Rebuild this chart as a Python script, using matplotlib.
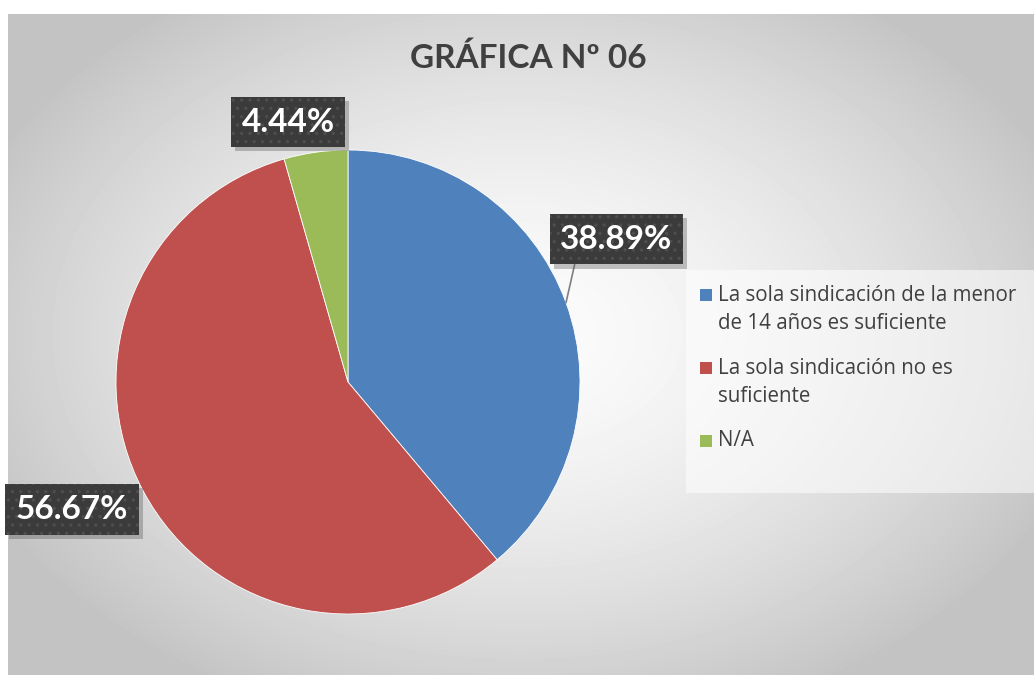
import matplotlib
matplotlib.use("Agg")
import matplotlib.pyplot as plt
import matplotlib.patheffects as pe
from matplotlib.patches import Rectangle
import numpy as np

plt.rcParams['font.family'] = ['Lato', 'DejaVu Sans']
plt.rcParams['hatch.linewidth'] = 1.2

title = "GRÁFICA Nº 06"
categories = ["La sola sindicación de la menor\nde 14 años es suficiente",
              "La sola sindicación no es\nsuficiente",
              "N/A"]
values = [38.89, 56.67, 4.44]
value_labels = ["38.89%", "56.67%", "4.44%"]
colors = ["#4f81bd", "#c0504d", "#9bbb59"]

W, H = 1034, 675
fig = plt.figure(figsize=(W / 100, H / 100), dpi=100)
fig.patch.set_facecolor("white")

# radial grey background of the chart area
bg = fig.add_axes([8 / W, 0, (W - 8) / W, (H - 14) / H])
yy, xx = np.mgrid[0:H - 14, 0:W - 8]
r = np.sqrt(((xx - 512) / 620.0) ** 2 + ((yy - 320) / 430.0) ** 2)
v = np.clip(0.985 - 0.24 * r ** 1.6, 0.765, 1.0)
bg.imshow(v, cmap="gray", vmin=0, vmax=1, aspect="auto", interpolation="bilinear")
bg.set_axis_off()

# pie axes: centre at (348, 382) px, radius 232 px
R = 232.0
ax = fig.add_axes([8 / W, 0, 680 / W, 661 / H])
wedges, _ = ax.pie(values, colors=colors, startangle=90, counterclock=False,
                   wedgeprops=dict(edgecolor="white", linewidth=0.6))
ax.set_xlim(-340 / R, 340 / R)
ax.set_ylim(-293 / R, 368 / R)
ax.set_aspect("auto")
ax.set_axis_off()

# label box offsets (radius factor, extra angle) per slice
label_pos = [(1.31, 8), (1.31, -3.2), (1.15, 5.0)]
box = "square,pad=0.32"
for w, lab, (rf, da) in zip(wedges, value_labels, label_pos):
    mid = np.deg2rad((w.theta1 + w.theta2) / 2)
    tx = rf * np.cos(mid + np.deg2rad(da))
    ty = rf * np.sin(mid + np.deg2rad(da))
    arrow = None
    if lab == "38.89%":
        arrow = dict(arrowstyle="-", color="#7f7f7f", lw=1.2, shrinkA=0,
                     shrinkB=0, relpos=(0.15, 0.0))
    # plain box carrying the soft shadow
    t = ax.annotate(lab, xy=(np.cos(mid), np.sin(mid)), xytext=(tx, ty),
                    ha="center", va="center", fontsize=24, fontweight="bold",
                    color="white", arrowprops=arrow,
                    bbox=dict(boxstyle=box, facecolor="#3b3b3b", edgecolor="none"))
    t.get_bbox_patch().set_path_effects([
        pe.SimplePatchShadow(offset=(3, -3), shadow_rgbFace="#555555", alpha=0.35),
        pe.Normal()])
    # dotted texture on top
    ax.text(tx, ty, lab, ha="center", va="center", fontsize=24,
            fontweight="bold", color="white",
            bbox=dict(boxstyle=box, facecolor="#3b3b3b", edgecolor="#4e4e4e",
                      linewidth=0, hatch=".."))

# title
fig.text(528 / W, 1 - 58 / H, title, ha="center", va="center",
         fontsize=24, fontweight="bold", color="#404040")

# legend panel
fig.patches.append(Rectangle((686 / W, 1 - 493 / H), (W - 686) / W, 223 / H,
                             transform=fig.transFigure, facecolor="white",
                             alpha=0.55, edgecolor="none"))
line_h = 28
y = 295
for c, cat in zip(colors, categories):
    fig.patches.append(Rectangle((700 / W, 1 - (y + 6) / H), 12 / W, 12 / H,
                                 transform=fig.transFigure, facecolor=c,
                                 edgecolor="none"))
    for k, line in enumerate(cat.split("\n")):
        fig.text(718 / W, 1 - (y + k * line_h) / H, line, ha="left", va="center",
                 fontsize=14.8, color="#404040", family=["Open Sans", "DejaVu Sans"])
    y += line_h * len(cat.split("\n")) + 17

fig.savefig("out.png", dpi=100)
